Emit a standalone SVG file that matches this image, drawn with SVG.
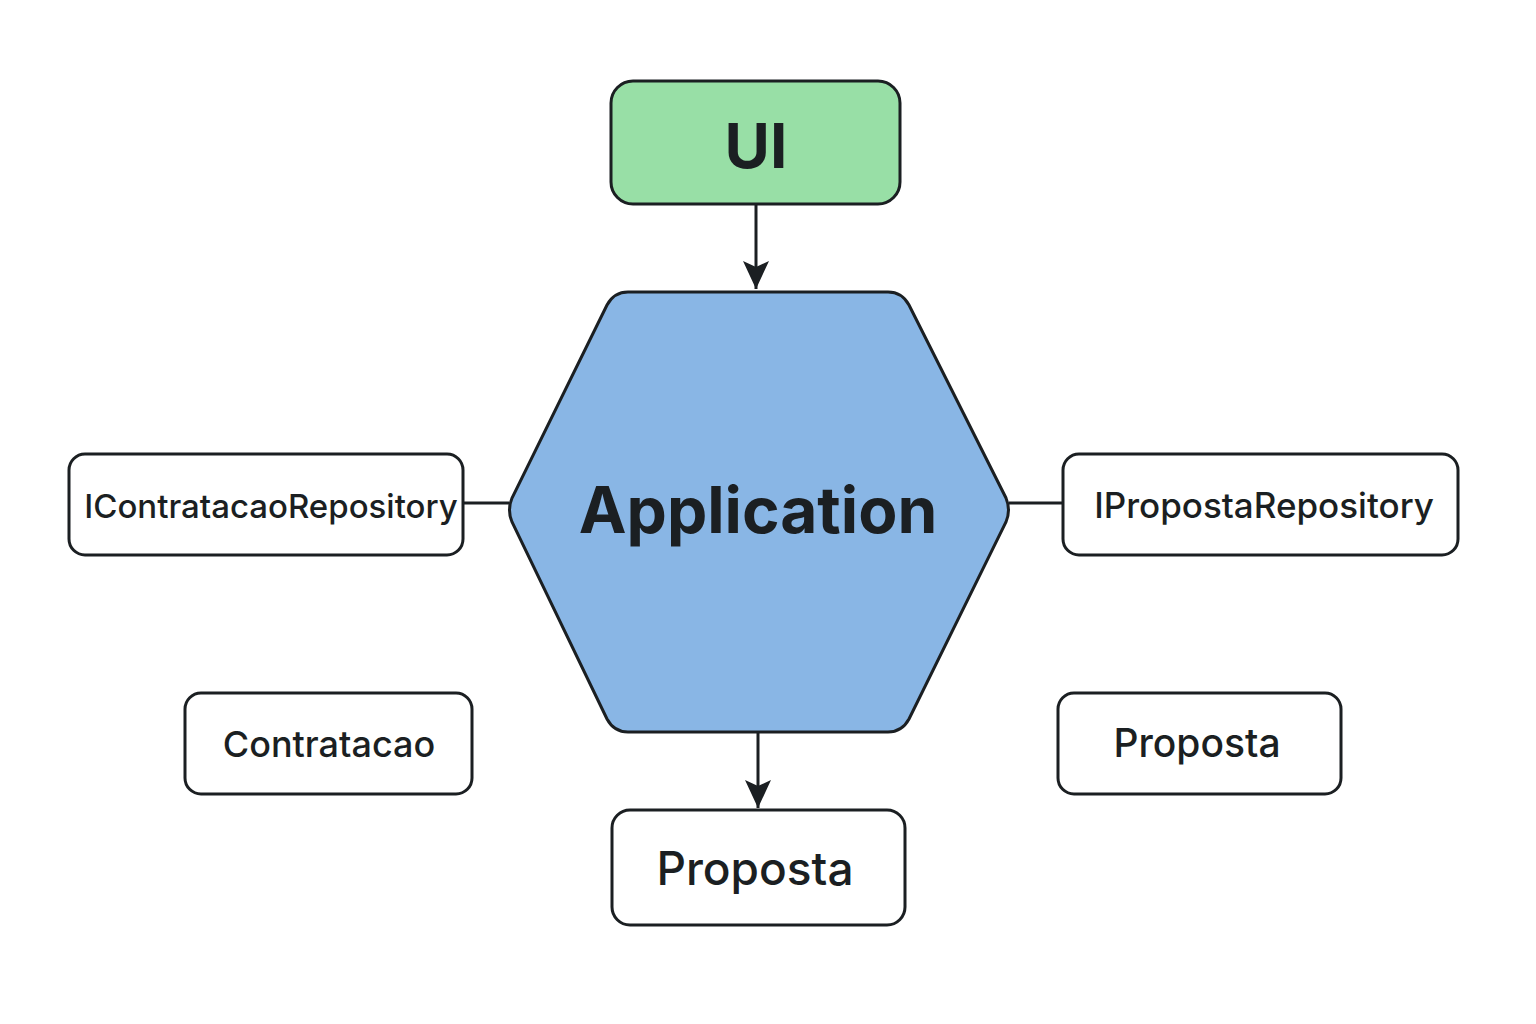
<svg xmlns="http://www.w3.org/2000/svg" width="1536" height="1024" viewBox="0 0 1536 1024">
<defs>
<style>
.box{fill:#ffffff;stroke:#1b1f22;stroke-width:3}
.lbl{font-family:Inter,"Liberation Sans",sans-serif;fill:#1b1f22;text-anchor:middle;font-weight:500}
.bold{font-weight:700}
.edge{stroke:#1b1f22;stroke-width:3;fill:none}
</style>
<marker id="arrow" viewBox="0 0 28 28" refX="28" refY="14" markerWidth="28" markerHeight="28" markerUnits="userSpaceOnUse" orient="auto">
<path d="M0,1 L28,14 L0,27 L6,14 Z" fill="#1b1f22"/>
</marker>
</defs>
<rect width="1536" height="1024" fill="#ffffff"/>
<g id="connectors">
<line class="edge" x1="756" y1="205" x2="756" y2="289" marker-end="url(#arrow)"/>
<line class="edge" x1="758" y1="733" x2="758" y2="808" marker-end="url(#arrow)"/>
<line class="edge" x1="463" y1="503" x2="509" y2="503"/>
<line class="edge" x1="1009" y1="503" x2="1063" y2="503"/>
</g>
<g id="ui">
<rect x="611" y="81" width="289" height="123" rx="22" fill="#98dfa6" stroke="#1b1f22" stroke-width="3"/>
<text class="lbl bold" x="756" y="168" font-size="62">UI</text>
</g>
<g id="application">
<path d="M628,292 L888,292 Q902,292 909,305 L1006,498 Q1011,510 1006,522 L909,719 Q902,732 888,732 L628,732 Q614,732 607,719 L512,522 Q507,510 512,498 L607,305 Q614,292 628,292 Z" fill="#89b6e5" stroke="#1b1f22" stroke-width="3"/>
<text class="lbl bold" x="758" y="533" font-size="64">Application</text>
</g>
<g id="icontratacaorepository">
<rect class="box" x="69" y="454" width="394" height="101" rx="16"/>
<text class="lbl" x="271" y="518" font-size="33">IContratacaoRepository</text>
</g>
<g id="ipropostarepository">
<rect class="box" x="1063" y="454" width="395" height="101" rx="16"/>
<text class="lbl" x="1264" y="518" font-size="35">IPropostaRepository</text>
</g>
<g id="contratacao">
<rect class="box" x="185" y="693" width="287" height="101" rx="16"/>
<text class="lbl" x="329" y="757" font-size="36">Contratacao</text>
</g>
<g id="proposta-right">
<rect class="box" x="1058" y="693" width="283" height="101" rx="16"/>
<text class="lbl" x="1197" y="757" font-size="39">Proposta</text>
</g>
<g id="proposta-bottom">
<rect class="box" x="612" y="810" width="293" height="115" rx="18"/>
<text class="lbl" x="755" y="885" font-size="46">Proposta</text>
</g>
</svg>
